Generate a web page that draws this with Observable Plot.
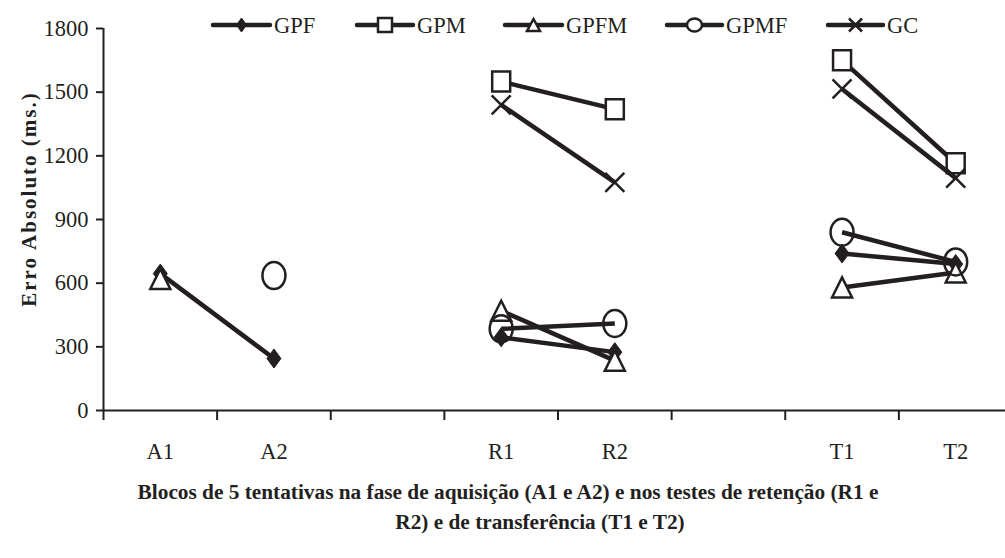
<!DOCTYPE html>
<html>
<head>
<meta charset="utf-8">
<script src="https://cdn.jsdelivr.net/npm/d3@7"></script>
<script src="https://cdn.jsdelivr.net/npm/@observablehq/plot@0.6"></script>
<style>
  html, body { margin: 0; padding: 0; background: #fff; }
  #wrap { position: relative; width: 1005px; height: 558px; overflow: hidden; font-family: "Liberation Serif", "Times New Roman", serif; color: #231f20; }
  #chart { position: absolute; left: 0; top: 0; }
  #legend { position: absolute; left: 0; top: 0; width: 1005px; height: 50px; }
  .ylab { position: absolute; left: 29px; top: 199px; transform: translate(-50%, -50%) rotate(-90deg); white-space: nowrap; font-weight: bold; font-size: 21px; letter-spacing: 2px; }
  .cap { position: absolute; white-space: nowrap; font-weight: bold; font-size: 21.3px; transform: translate(-50%, -50%); }
</style>
</head>
<body>
<div id="wrap">
  <div id="chart"></div>
  <svg id="legend" width="1005" height="50"></svg>
  <div class="ylab">Erro Absoluto (ms.)</div>
  <div class="cap" style="left:508px; top:492px;">Blocos de 5 tentativas na fase de aquisição (A1 e A2) e nos testes de retenção (R1 e</div>
  <div class="cap" style="left:540px; top:522px;">R2) e de transferência (T1 e T2)</div>
</div>
<script>
// ---- data ----
const blocks = ["A1", "A2", "", "R1", "R2", "", "T1", "T2"];
const seriesNames = ["GPF", "GPM", "GPFM", "GPMF", "GC"];
const GPF  = [645, 245, null, 345, 275, null, 740, 690];
const GPM  = [null, null, null, 1550, 1420, null, 1650, 1165];
const GPFM = [620, null, null, 470, 235, null, 580, 650];
const GPMF = [null, 636, null, 385, 410, null, 840, 700];
const GC   = [null, null, null, 1440, 1075, null, 1515, 1095];
const yTicks = [0, 300, 600, 900, 1200, 1500, 1800];

const values = { GPF, GPM, GPFM, GPMF, GC };
const ink = "#231f20";

// ---- symbols ----
function shape(kind, sx, sy) {
  return {
    draw(ctx) {
      if (kind === "diamond") {
        ctx.moveTo(0, -sy); ctx.lineTo(sx, 0); ctx.lineTo(0, sy); ctx.lineTo(-sx, 0); ctx.closePath();
      } else if (kind === "square") {
        ctx.moveTo(-sx, -sy); ctx.lineTo(sx, -sy); ctx.lineTo(sx, sy); ctx.lineTo(-sx, sy); ctx.closePath();
      } else if (kind === "triangle") {
        ctx.moveTo(0, -sy); ctx.lineTo(sx, sy); ctx.lineTo(-sx, sy); ctx.closePath();
      } else if (kind === "ellipse") {
        const k = 0.5523;
        ctx.moveTo(sx, 0);
        ctx.bezierCurveTo(sx, sy * k, sx * k, sy, 0, sy);
        ctx.bezierCurveTo(-sx * k, sy, -sx, sy * k, -sx, 0);
        ctx.bezierCurveTo(-sx, -sy * k, -sx * k, -sy, 0, -sy);
        ctx.bezierCurveTo(sx * k, -sy, sx, -sy * k, sx, 0);
        ctx.closePath();
      } else if (kind === "x") {
        ctx.moveTo(-sx, -sy); ctx.lineTo(sx, sy);
        ctx.moveTo(sx, -sy); ctx.lineTo(-sx, sy);
      }
    }
  };
}

const styles = {
  GPF:  { kind: "diamond",  main: [7, 9.5],  leg: [5, 7],    fill: ink,    sw: 1 },
  GPM:  { kind: "square",   main: [9, 10],   leg: [7, 7],    fill: "#fff", sw: 2.5 },
  GPFM: { kind: "triangle", main: [10, 10],  leg: [6.5, 6],  fill: "#fff", sw: 2.5 },
  GPMF: { kind: "ellipse",  main: [11.5, 13.5], leg: [7.5, 6.5], fill: "none", sw: 2.5 },
  GC:   { kind: "x",        main: [9.5, 9.5], leg: [6.5, 6.5], fill: "none", sw: 2.5 }
};

// long table
const rows = [];
for (const s of seriesNames) {
  values[s].forEach((v, i) => rows.push({ serie: s, block: blocks[i], i, value: v }));
}

const marks = [
  Plot.ruleY([0], { stroke: ink, strokeWidth: 2 }),
  Plot.ruleX([0], { stroke: ink, strokeWidth: 2 }),
  Plot.axisY({ ticks: yTicks, tickSize: 7, tickPadding: 8, tickFormat: d => String(d), stroke: ink, strokeWidth: 2, label: null, fontSize: 22.5, fill: ink }),
  Plot.axisX({ ticks: d3.range(0, blocks.length + 1), tickSize: 10, strokeWidth: 2, stroke: ink, tickFormat: () => "", label: null }),
  Plot.axisX({ ticks: blocks.map((b, i) => b ? i + 0.5 : null).filter(d => d != null), tickSize: 0, tickPadding: 33, tickFormat: d => blocks[Math.floor(d)], label: null, fontSize: 22.5, fill: ink })
];

for (const s of seriesNames) {
  const data = rows.filter(r => r.serie === s);
  const st = styles[s];
  marks.push(Plot.line(data, { x: d => d.i + 0.5, y: "value", stroke: ink, strokeWidth: 4.5, strokeLinecap: "butt" }));
  marks.push(Plot.dot(data.filter(d => d.value != null), {
    x: d => d.i + 0.5, y: "value", r: 5,
    symbol: shape(st.kind, st.main[0], st.main[1]),
    fill: st.fill, stroke: ink, strokeWidth: st.sw
  }));
}

const chart = Plot.plot({
  width: 1005,
  height: 470,
  marginLeft: 103,
  marginRight: 0,
  marginTop: 28,
  marginBottom: 60,
  style: { fontFamily: "'Liberation Serif', 'Times New Roman', serif", fontSize: "22px", color: ink, background: "white" },
  x: { type: "linear", domain: [0, blocks.length], range: [103, 1012] },
  y: { domain: [0, 1800] },
  marks
});
document.getElementById("chart").appendChild(chart);

// ---- legend ----
const legendPos = { GPF: [213, 270], GPM: [357, 413], GPFM: [505, 562], GPMF: [667, 722], GC: [828, 883] };
const leg = d3.select("#legend");
const ly = 25;
for (const s of seriesNames) {
  const [x0, x1] = legendPos[s];
  const st = styles[s];
  leg.append("line").attr("x1", x0).attr("x2", x1).attr("y1", ly).attr("y2", ly)
    .attr("stroke", ink).attr("stroke-width", 4.5).attr("stroke-linecap", "round");
  const p = d3.path();
  shape(st.kind, st.leg[0], st.leg[1]).draw(p);
  leg.append("path").attr("d", p.toString()).attr("transform", `translate(${(x0 + x1) / 2},${ly})`)
    .attr("fill", st.fill === "none" ? "#fff" : st.fill).attr("stroke", ink).attr("stroke-width", st.sw);
  leg.append("text").attr("x", x1 + 4).attr("y", ly + 8).attr("font-size", 22.5)
    .attr("font-family", "'Liberation Serif', 'Times New Roman', serif").attr("fill", ink).text(s);
}
</script>
</body>
</html>
